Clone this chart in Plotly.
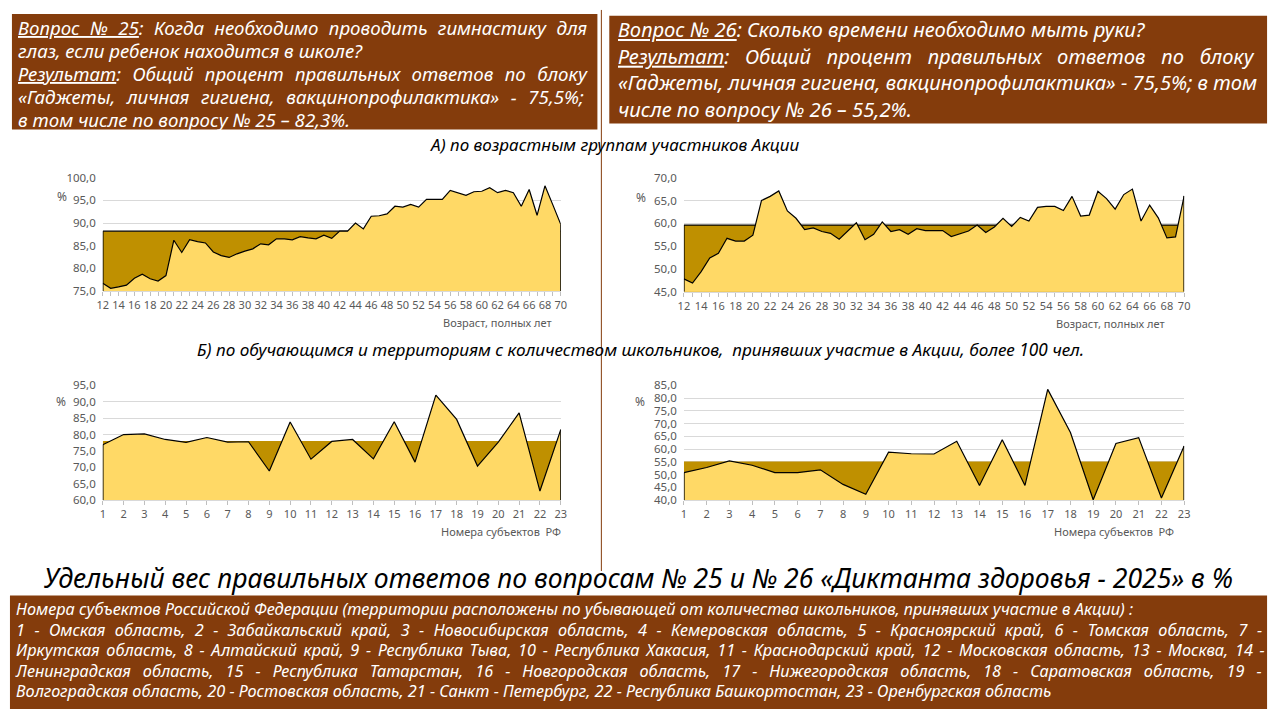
import plotly.graph_objects as go

# categories
ages = list(range(12, 71))
regions = list(range(1, 24))

# question 25, by age 12..70
q25_by_age = [76.7, 75.6, 75.9, 76.3, 77.8, 78.7, 77.7, 77.2, 78.4, 86.2,
              83.5, 86.3, 85.9, 85.6, 83.6, 82.8, 82.4, 83.2, 83.8, 84.3,
              85.4, 85.2, 86.5, 86.5, 86.3, 87.0, 86.7, 86.5, 87.3, 86.6,
              88.2, 88.2, 90.0, 88.7, 91.5, 91.6, 92.0, 93.7, 93.5, 94.1,
              93.5, 95.2, 95.2, 95.2, 97.2, 96.7, 96.1, 96.9, 97.0, 97.8,
              96.7, 97.2, 96.7, 93.7, 97.4, 91.7, 98.2, 94.0, 89.7]

# question 26, by age 12..70
q26_by_age = [47.8, 46.9, 49.4, 52.4, 53.4, 56.7, 56.1, 56.1, 57.4, 65.0,
              65.9, 67.1, 62.7, 61.1, 58.6, 59.0, 58.2, 57.8, 56.5, 58.2,
              60.1, 56.4, 57.6, 60.3, 58.2, 58.6, 57.6, 58.8, 58.4, 58.4,
              58.4, 57.1, 57.7, 58.3, 59.6, 58.0, 59.2, 61.1, 59.3, 61.3,
              60.5, 63.5, 63.7, 63.7, 62.8, 65.9, 61.6, 61.8, 67.0, 65.4,
              63.1, 66.3, 67.5, 60.5, 64.0, 61.2, 56.8, 57.0, 66.0]

# by region number 1..23
q25_by_region = [76.9, 80.0, 80.2, 78.5, 77.6, 79.1, 77.7, 77.8, 68.9, 83.8,
                 72.5, 77.9, 78.5, 72.6, 83.9, 71.6, 92.0, 84.6, 70.4, 77.7,
                 86.6, 62.8, 81.5]
q26_by_region = [50.8, 52.8, 55.4, 53.7, 50.8, 50.8, 51.9, 46.2, 42.3, 58.8,
                 58.2, 58.1, 63.1, 45.8, 63.7, 45.8, 83.4, 66.5, 40.2, 62.2,
                 64.5, 40.9, 61.2]

# average levels (dark band)
q25_age_level = 88.2
q26_age_level = 59.6
q25_region_level = 78.0
q26_region_level = 55.2

W, H = 1280, 720
LIGHT = '#FFD966'
DARK = '#BF9000'
BROWN = '#843C0C'
GREY = '#595959'
FONT = 'Noto Sans'


def px(x):
    return x / W


def py(y):
    return 1 - y / H


panels = [
    dict(x=ages, y=q25_by_age, level=q25_age_level, rng=[75, 100], outline=True,
         dx=(97.7, 560), dy=(173.3, 289), pct=(57, 193),
         title='Возраст, полных лет', tpos=(553, 321), step=2),
    dict(x=ages, y=q26_by_age, level=q26_age_level, rng=[45, 70], outline=True,
         dx=(684.3, 1189.3), dy=(173.3, 289.7), pct=(641, 194),
         title='Возраст, полных лет', tpos=(1172, 322), step=2),
    dict(x=regions, y=q25_by_region, level=q25_region_level, rng=[60, 95], outline=False,
         dx=(97.7, 560), dy=(385.3, 502.7), pct=(56, 402),
         title='Номера субъектов  РФ', tpos=(562, 535), step=1),
    dict(x=regions, y=q26_by_region, level=q26_region_level, rng=[40, 85], outline=False,
         dx=(684.3, 1189.3), dy=(385.3, 502.7), pct=(640, 402),
         title='Номера субъектов  РФ', tpos=(1181, 535), step=1),
]

fig = go.Figure()
layout = dict(width=W, height=H, autosize=False, margin=dict(l=0, r=0, t=0, b=0),
              paper_bgcolor='white', plot_bgcolor='white', showlegend=False,
              separators=', ', font=dict(family=FONT, color=GREY))
shapes = []
annotations = []

for i, p in enumerate(panels, start=1):
    sfx = '' if i == 1 else str(i)
    xa, ya = 'x' + sfx, 'y' + sfx
    fig.add_trace(go.Scatter(
        x=p['x'], y=[p['level']] * len(p['x']), xaxis=xa, yaxis=ya,
        mode='lines', fill='tozeroy', fillcolor=DARK,
        line=dict(color='black', width=1.2 if p['outline'] else 0),
        hoverinfo='skip'))
    fig.add_trace(go.Scatter(
        x=p['x'], y=p['y'], xaxis=xa, yaxis=ya,
        mode='lines', fill='tozeroy', fillcolor=LIGHT,
        line=dict(color='black', width=1.2)))

    xaxis = dict(domain=[px(p['dx'][0]), px(p['dx'][1])], anchor=ya,
                 range=[p['x'][0], p['x'][-1]], showgrid=False, zeroline=False,
                 showline=True, linecolor='#D9D9D9', linewidth=1,
                 ticks='outside', ticklen=4, tickcolor='#BFBFBF',
                 tick0=p['x'][0], dtick=p['step'], tickangle=0,
                 tickfont=dict(family=FONT, size=11, color=GREY))
    if p['step'] > 1:
        xaxis['minor'] = dict(dtick=1, ticks='outside', ticklen=4, tickcolor='#BFBFBF')
    yaxis = dict(domain=[py(p['dy'][1]), py(p['dy'][0])], anchor=xa,
                 range=p['rng'], dtick=5, tickformat='.1f', showgrid=True,
                 gridcolor='#D9D9D9', gridwidth=1, zeroline=False, showline=False,
                 ticks='', ticklabelstandoff=6,
                 tickfont=dict(family=FONT, size=11.5, color=GREY))
    layout['xaxis' + sfx] = xaxis
    layout['yaxis' + sfx] = yaxis

    # vertical edges of the areas
    left_top = max(p['y'][0], p['level']) if p['outline'] else p['y'][0]
    right_top = max(p['y'][-1], p['level']) if p['outline'] else p['y'][-1]
    for xv, top in ((p['x'][0], left_top), (p['x'][-1], right_top)):
        shapes.append(dict(type='line', xref=xa, yref=ya, x0=xv, x1=xv,
                           y0=p['rng'][0], y1=top, line=dict(color='black', width=1.5)))

    annotations.append(dict(text='%', xref='paper', yref='paper',
                            x=px(p['pct'][0]), y=py(p['pct'][1]), showarrow=False,
                            xanchor='center', yanchor='middle',
                            font=dict(family=FONT, size=12, color=GREY)))
    annotations.append(dict(text=p['title'], xref='paper', yref='paper',
                            x=px(p['tpos'][0]), y=py(p['tpos'][1]), showarrow=False,
                            xanchor='right', yanchor='middle',
                            font=dict(family=FONT, size=11, color=GREY)))

# brown boxes and divider
for x0, y0, x1, y1 in ((6, 6, 597, 124), (609, 8, 1273, 118), (4, 600, 1273, 716)):
    shapes.append(dict(type='rect', xref='paper', yref='paper', layer='below',
                       x0=px(x0), x1=px(x1), y0=py(y1), y1=py(y0),
                       fillcolor=BROWN, line=dict(width=0)))
shapes.append(dict(type='line', xref='paper', yref='paper', x0=px(601), x1=px(601),
                   y0=py(575), y1=py(2), line=dict(color=BROWN, width=1)))


def text_line(txt, x, y, size, color='white', anchor='left'):
    annotations.append(dict(text=txt, xref='paper', yref='paper', x=px(x), y=py(y),
                            showarrow=False, xanchor=anchor, yanchor='middle',
                            font=dict(family=FONT, size=size, color=color, style='italic')))


def text_block(lines, gaps, x, y_mid, size, spacing):
    # one annotation per block; line pitch is set by the base size (1.3 em),
    # the glyph size by the inner span; word-spacing imitates justified text
    body = '<br>'.join('<span style="font-size:%spx; word-spacing:%spx">%s</span>'
                       % (size, g, t) for t, g in zip(lines, gaps))
    annotations.append(dict(text=body, xref='paper', yref='paper', x=px(x), y=py(y_mid),
                            showarrow=False, xanchor='left', yanchor='middle', align='left',
                            font=dict(family=FONT, size=spacing / 1.3, color='white',
                                      style='italic')))


left_box = [
    '<u>Вопрос № 25</u>: Когда необходимо проводить гимнастику для',
    'глаз, если ребенок находится в школе?',
    '<u>Результат</u>: Общий процент правильных ответов по блоку',
    '«Гаджеты, личная гигиена, вакцинопрофилактика» - 75,5%;',
    'в том числе по вопросу № 25 – 82,3%.',
]
text_block(left_box, [5.5, 0, 6.5, 6.8, 0], 10, 67, 18.7, 23)

right_box = [
    '<u>Вопрос № 26</u>: Сколько времени необходимо мыть руки?',
    '<u>Результат</u>: Общий процент правильных ответов по блоку',
    '«Гаджеты, личная гигиена, вакцинопрофилактика» - 75,5%; в том',
    'числе по вопросу № 26 – 55,2%.',
]
text_block(right_box, [0, 10.5, 0, 0], 616, 62, 20.2, 26.7)

text_line('А) по возрастным группам участников Акции', 614, 139, 17, 'black', 'center')
text_line('Б) по обучающимся и территориям с количеством школьников,  '
          'принявших участие в Акции, более 100 чел.', 641, 349, 17.2, 'black', 'center')
text_line('Удельный вес правильных ответов по вопросам № 25 и № 26 '
          '«Диктанта здоровья - 2025» в %', 638, 582, 26.6, 'black', 'center')

footer = [
    'Номера субъектов Российской Федерации (территории расположены по убывающей '
    'от количества школьников, принявших участие в Акции) :',
    '1 - Омская область, 2 - Забайкальский край, 3 - Новосибирская область, '
    '4 - Кемеровская область, 5 - Красноярский край, 6 - Томская область, 7 -',
    'Иркутская область, 8 - Алтайский край, 9 - Республика Тыва, 10 - Республика Хакасия, '
    '11 - Краснодарский край, 12 - Московская область, 13 - Москва, 14 -',
    'Ленинградская область, 15 - Республика Татарстан, 16 - Новгородская область, '
    '17 - Нижегородская область, 18 - Саратовская область, 19 -',
    'Волгоградская область, 20 - Ростовская область, 21 - Санкт - Петербург, '
    '22 - Республика Башкортостан, 23 - Оренбургская область',
]
text_block(footer, [0, 5.2, 2.5, 7.8, 0], 7, 656, 16.3, 20.6)

layout['shapes'] = shapes
layout['annotations'] = annotations
fig.update_layout(**layout)

# drop the default page margin so the 1280x720 figure fills the window
fig.write_html("out.html", config={'displayModeBar': False},
               post_script="document.body.style.margin='0';")
